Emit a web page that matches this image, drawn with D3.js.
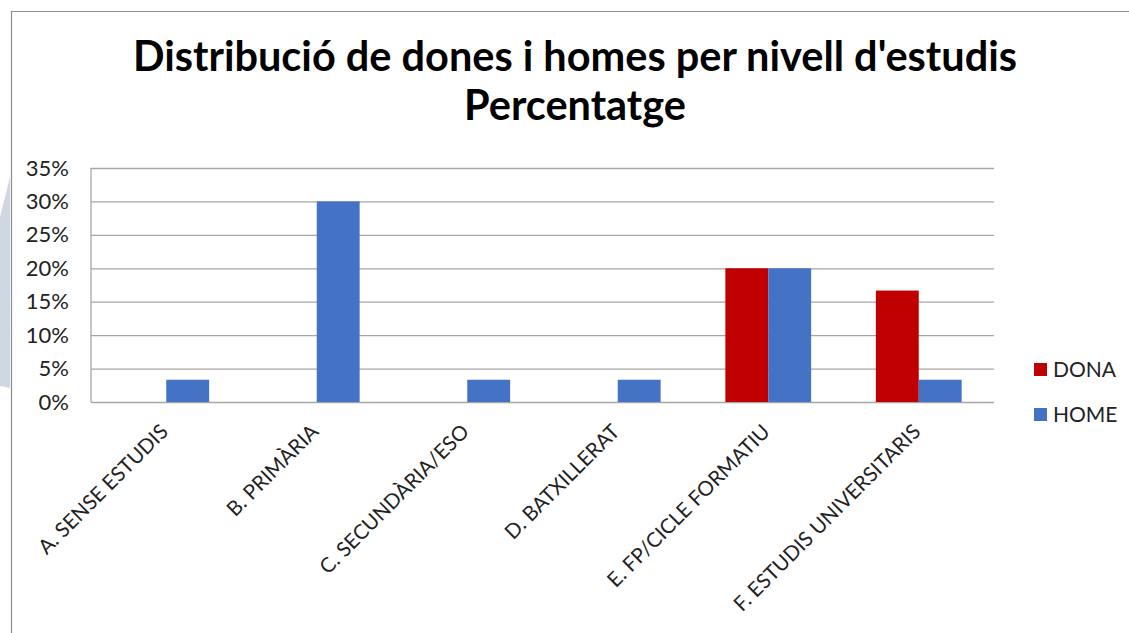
<!DOCTYPE html>
<html>
<head>
<meta charset="utf-8">
<script src="https://cdn.jsdelivr.net/npm/d3@7"></script>
<style>
  html, body { margin: 0; padding: 0; background: #fff; }
  svg { display: block; font-family: Lato, "Open Sans", sans-serif; }
</style>
</head>
<body>
<div id="graphicContainer"></div>
<script>
var categories = ["A. SENSE ESTUDIS", "B. PRIMÀRIA", "C. SECUNDÀRIA/ESO", "D. BATXILLERAT", "E. FP/CICLE FORMATIU", "F. ESTUDIS UNIVERSITARIS"]
var dona = [0, 0, 0, 0, 20, 16.67]
var home = [3.33, 30, 3.33, 3.33, 20, 3.33]
var seriesNames = ["DONA", "HOME"]
var seriesColors = ["#c00000", "#4472c4"]
var yTicks = [0, 5, 10, 15, 20, 25, 30, 35]
var titleLines = ["Distribució de dones i homes per nivell d'estudis", "Percentatge"]

var W = 1129, H = 633
var margin = { top: 168, right: 135, bottom: 231, left: 91 }
var width = W - margin.left - margin.right
var height = H - margin.top - margin.bottom

var data = categories.map((c, i) => ({ cat: c, values: [dona[i], home[i]] }))

var svg = d3.select("#graphicContainer").append("svg").attr("width", W).attr("height", H)

// decoration at the left edge + outer frame
svg.append("polygon")
  .attr("points", "0,217 10,177 10,388 0,386")
  .attr("fill", "#cfd7e2")

svg.append("path")
  .attr("d", "M11.5," + H + "V11.5H" + W)
  .attr("fill", "none")
  .attr("stroke", "#8c8c8c")
  .attr("stroke-width", 1.2)

// title
var title = svg.append("g").attr("class", "title")
title.selectAll("text")
  .data(titleLines)
  .enter()
  .append("text")
  .attr("x", 575)
  .attr("y", (d, i) => 71 + i * 49)
  .attr("text-anchor", "middle")
  .attr("font-weight", "bold")
  .attr("font-size", 40)
  .attr("fill", "#000")
  .text(d => d)

// fit first line to the width seen in the picture
var firstLine = title.select("text").node()
var fit = 40 * 884 / firstLine.getComputedTextLength()
title.selectAll("text").attr("font-size", fit)

var features = svg.append("g").attr("transform", "translate(" + margin.left + "," + margin.top + ")")

var x0 = d3.scaleBand().domain(categories).range([0, width]).paddingInner(0.43).paddingOuter(0.215)
var x1 = d3.scaleBand().domain(seriesNames).range([0, x0.bandwidth()])
var y = d3.scaleLinear().domain([0, 35]).range([height, 0])

var yAxis = d3.axisLeft(y)
  .tickValues(yTicks)
  .tickSize(-width)
  .tickPadding(22)
  .tickFormat(d => d + "%")

var gy = features.append("g").attr("class", "y").call(yAxis)
gy.select(".domain").remove()
gy.selectAll(".tick line").attr("stroke", "#a6a6a6").attr("stroke-width", 1.3)
gy.selectAll(".tick text")
  .attr("font-family", "Lato, sans-serif")
  .attr("font-size", 22)
  .attr("fill", "#222")

features.append("line")
  .attr("x1", 0).attr("x2", 0)
  .attr("y1", 0).attr("y2", height)
  .attr("stroke", "#a6a6a6")
  .attr("stroke-width", 1.3)

var groups = features.selectAll(".group")
  .data(data)
  .enter()
  .append("g")
  .attr("class", "group")
  .attr("transform", d => "translate(" + x0(d.cat) + ",0)")

groups.selectAll("rect")
  .data(d => d.values.map((v, i) => ({ key: seriesNames[i], value: v, color: seriesColors[i] })))
  .enter()
  .append("rect")
  .filter(d => d.value > 0)
  .attr("x", d => x1(d.key))
  .attr("y", d => y(d.value))
  .attr("width", x1.bandwidth())
  .attr("height", d => y(0) - y(d.value))
  .attr("fill", d => d.color)

// category labels, rotated
features.append("g").attr("class", "x")
  .selectAll("text")
  .data(categories)
  .enter()
  .append("text")
  .attr("transform", d => "translate(" + (x0(d) + x0.bandwidth() / 2 + 3) + "," + (height + 31) + ") rotate(-45)")
  .attr("text-anchor", "end")
  .attr("font-size", 20.5)
  .attr("fill", "#222")
  .text(d => d)

// legend
var legend = svg.append("g").attr("class", "legend")
var items = legend.selectAll("g")
  .data(seriesNames)
  .enter()
  .append("g")
  .attr("transform", (d, i) => "translate(1034," + (363 + i * 45) + ")")

items.append("rect")
  .attr("width", 13).attr("height", 13)
  .attr("fill", (d, i) => seriesColors[i])

items.append("text")
  .attr("x", 19)
  .attr("y", 14)
  .attr("font-size", 21)
  .attr("fill", "#222")
  .text(d => d)
</script>
</body>
</html>
